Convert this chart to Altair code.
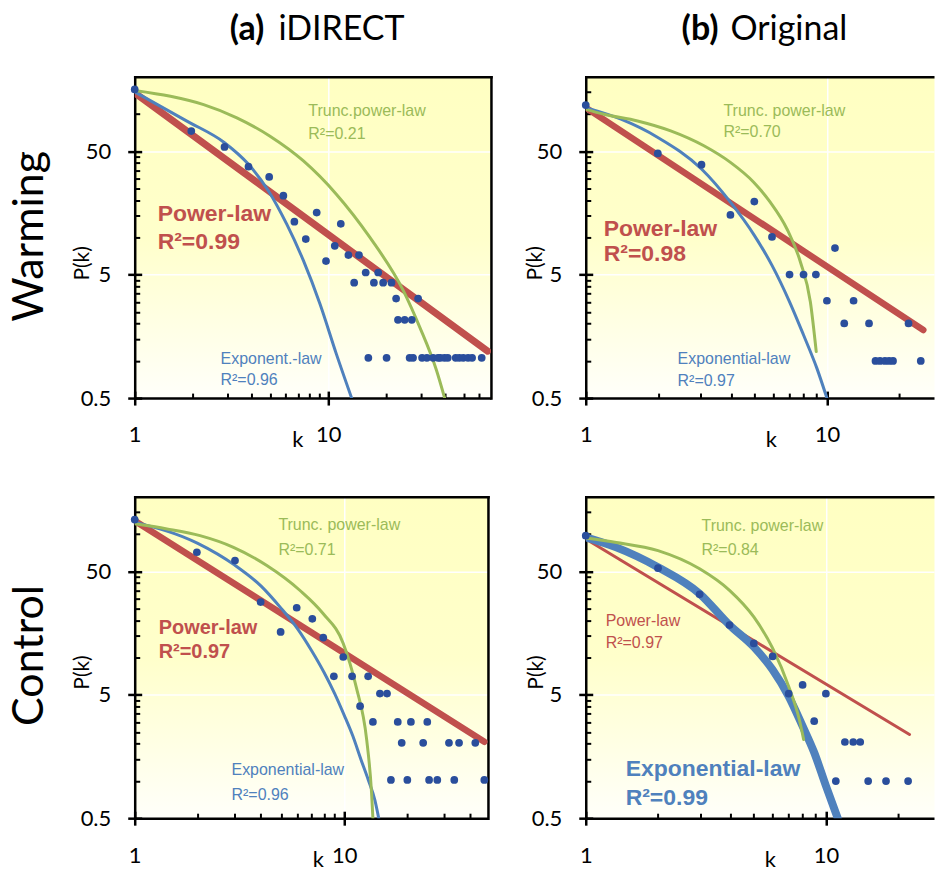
import altair as alt
import pandas as pd

RED, BLUE, GREEN, DOT = "#C0504D", "#4F81BD", "#9BBB59", "#2A4E9C"
SANS = "Liberation Sans"
UI = "Lato"

# ---------------- (a) iDIRECT - Warming ----------------
aw_k = [1, 1.96, 2.91, 3.87, 4.95, 5.86, 6.68, 7.65, 8.71, 9.73, 10.8, 11.6, 12.7, 13.6, 14.4, 15.6, 16.1,
        17.2, 18.1, 19.2, 20.0, 21.2, 22.4, 22.9, 24.8, 27.0, 29.1,
        26.3, 27.4, 30.5, 32.3, 34.8, 36.9, 37.9, 39.8, 41.4, 45.5, 47.5, 49.8, 52.7, 55.3, 62.0]
aw_p = [158, 72.6, 54, 37.4, 30.9, 21.8, 13.4, 9.7, 15.9, 6.44, 8.55, 12.9, 7.2, 4.3, 7.2, 5.2, 1.06,
        4.3, 5.2, 4.3, 1.06, 4.3, 3.2, 2.15, 2.15, 2.15, 3.2,
        1.06, 1.06, 1.06, 1.06, 1.06, 1.06, 1.06, 1.06, 1.06, 1.06, 1.06, 1.06, 1.06, 1.06, 1.06]
aw_red_k = [1, 66.5]
aw_red_p = [148, 1.2]
aw_blue_k = [1, 1.86, 2.91, 3.87, 4.91, 6.10, 7.44, 9.06, 11.0, 13.2]
aw_blue_p = [151, 87.5, 58.5, 39.1, 23.8, 12.8, 6.48, 2.89, 1.14, 0.5]
aw_green_k = [1, 1.53, 2.27, 3.37, 5.0, 7.44, 11.0, 16.4, 24.4, 29.7, 36.2, 39.9]
aw_green_p = [155, 139, 119, 93, 66, 41.6, 22.4, 10, 3.71, 1.87, 0.84, 0.5]

# ---------------- (b) Original - Warming ----------------
bw_k = [1, 1.99, 3.02, 3.98, 5.0, 5.92, 7.0, 8.0, 9.0, 10.0, 10.8, 11.8, 12.9, 14.95,
        15.9, 16.6, 17.4, 18.1, 18.8, 21.8, 24.5]
bw_p = [118, 47.9, 38.8, 15.2, 19.5, 10.1, 5.0, 5.0, 5.0, 3.07, 8.2, 2.01, 3.07, 2.01,
        1.0, 1.0, 1.0, 1.0, 1.0, 2.01, 1.0]
bw_red_k = [1, 25.1]
bw_red_p = [112.5, 1.78]
bw_blue_k = [1, 1.40, 1.99, 3.02, 3.98, 5.0, 5.92, 7.0, 8.0, 9.09, 10.0]
bw_blue_p = [112.5, 90.6, 64.5, 35.8, 19.3, 10.4, 5.94, 3.01, 1.62, 0.87, 0.5]
bw_green_k = [1, 1.19, 1.64, 2.25, 3.09, 3.98, 4.97, 5.82, 6.83, 7.77, 8.54, 9.03]
bw_green_p = [109, 99.4, 87.7, 72.9, 55.2, 40.5, 28, 19.3, 11.7, 6.3, 3.0, 1.19]

# ---------------- (a) iDIRECT - Control ----------------
ac_k = [1, 1.98, 3.01, 3.99, 4.97, 5.93, 7.04, 7.94, 8.92, 9.89, 10.9, 11.9, 13.0, 13.7, 14.8,
        16.0, 16.7, 18.0, 18.8, 20.0, 20.8, 23.8, 24.9, 25.4, 27.8, 31.6, 33.5, 35.3, 42.2, 46.6]
ac_p = [131, 71.2, 61, 28.1, 16.1, 25.3, 20.6, 14.5, 7.05, 10.1, 7.05, 4.04, 7.05, 3.01, 5.11,
        5.11, 1.02, 3.01, 2.04, 1.02, 3.01, 2.04, 3.01, 1.02, 1.02, 2.04, 1.02, 2.04, 2.04, 1.02]
ac_red_k = [1, 46.6]
ac_red_p = [128, 2.08]
ac_blue_k = [1, 2, 3, 4, 5, 6, 7, 8, 9, 10, 11, 12, 13, 14, 14.6]
ac_blue_p = [125, 84, 56, 38, 25, 17, 11.3, 7.6, 5.1, 3.4, 2.3, 1.5, 1.03, 0.7, 0.5]
ac_green_k = [1, 1.425, 2.05, 2.96, 4.27, 6.15, 7.94, 9.89, 11.4, 12.8, 13.5, 13.7]
ac_green_p = [121, 110, 97, 78, 55.6, 34.9, 22.6, 13, 5.78, 2.14, 0.8, 0.5]

# ---------------- (b) Original - Control ----------------
bc_k = [1, 2.0, 2.98, 3.97, 5.01, 6.0, 7.0, 8.0, 8.94, 10.0, 11.0, 12.0, 13.0, 13.9, 15.0, 17.8, 22.0]
bc_p = [96.9, 52.9, 32.5, 18.3, 13.0, 10.2, 5.1, 6.0, 3.05, 5.1, 1.0, 2.07, 2.07, 2.07, 1.0, 1.0, 1.0]
bc_red_k = [1, 22.3]
bc_red_p = [91.2, 2.38]
bc_blue_k = [1, 1.34, 2.0, 2.98, 3.97, 5.01, 6.0, 7.0, 8.0, 8.94, 10.0, 11.2]
bc_blue_p = [94, 78, 53.9, 32.9, 18.3, 12.2, 7.95, 4.85, 2.78, 1.70, 0.915, 0.5]
bc_green_k = [1, 1.34, 2.0, 2.98, 3.97, 5.01, 6.0, 7.0, 7.75, 8.08]
bc_green_p = [92.8, 85.5, 73.4, 52.3, 35, 21.3, 11.9, 5.83, 3.15, 2.17]

# axis tick values
x_major = [1, 10]
y_major = [0.5, 5, 50]
x_minor = [2, 3, 4, 5, 6, 7, 8, 9, 20, 30, 40, 50, 60]
y_minor = [1, 1.5, 2, 2.5, 3, 3.5, 4, 4.5, 10, 15, 20, 25, 30, 35, 40, 45, 100, 150]

Y_DOMAIN = [0.5, 200]
PANEL_H = 322

GRAD = ("{gradient:'linear',x1:0,y1:0,x2:0,y2:1,stops:["
        "{offset:0,color:'#ffffc2'},{offset:0.5,color:'#ffffcb'},{offset:1,color:'#fffffa'}]}")

ONE = pd.DataFrame({"i": [0]})


def txt(text, x, y, size, color="black", weight="normal", font=SANS, align="left",
        baseline="alphabetic", angle=0):
    mk = dict(text=text, align=align, baseline=baseline, font=font, fontSize=size,
              fontWeight=weight, color=color)
    if angle:
        mk["angle"] = angle
    return alt.Chart(ONE).mark_text(**mk).encode(x=alt.value(x), y=alt.value(y))


def make_panel(pk, pp, red, blue, green, xmax, width, widths, left_col, texts):
    xs = alt.Scale(type="log", domain=[1, xmax], nice=False)
    ys = alt.Scale(type="log", domain=Y_DOMAIN, nice=False)
    xmin_vals = [v for v in x_minor if v < xmax]

    ax_x_main = alt.Axis(orient="bottom", values=x_major, format="~g", offset=-7, tickSize=14,
                         tickWidth=2.5, tickColor="black", domain=False, grid=True,
                         gridColor="white", gridWidth=1.5,
                         gridOpacity={"condition": {"test": "datum.value < 2", "value": 0}, "value": 1},
                         labelFont=UI, labelFontSize=22, labelColor="black", labelPadding=20,
                         labelFlush=False, title=None)
    ax_y_main = alt.Axis(orient="left", values=y_major, format="~g", offset=-7, tickSize=14,
                         tickWidth=2.5, tickColor="black", domain=False, grid=True,
                         gridColor="white", gridWidth=1.5,
                         gridOpacity={"condition": {"test": "datum.value < 1", "value": 0}, "value": 1},
                         labelFont=UI, labelFontSize=22, labelColor="black", labelPadding=17,
                         title=None)
    ax_x_minor = alt.Axis(orient="bottom", values=xmin_vals, offset=-5, tickSize=5, tickWidth=2,
                          tickColor="black", domain=False, grid=False, labels=False, title=None)
    ax_y_minor = alt.Axis(orient="left", values=y_minor, offset=-5, tickSize=5, tickWidth=2,
                          tickColor="black", domain=False, grid=False, labels=False, title=None)
    ax_x_dom = alt.Axis(orient="bottom", domain=True, domainColor="black", domainWidth=2.5,
                        domainCap="butt", ticks=False, labels=False, grid=False, title=None)
    ax_y_dom = alt.Axis(orient="left", domain=True, domainColor="black", domainWidth=2.5,
                        domainCap="square", ticks=False, labels=False, grid=False, title=None)
    ax_x_top = alt.Axis(orient="top", domain=True, domainColor="black", domainWidth=2.5,
                        domainCap="square" if left_col else "butt", ticks=False, labels=False,
                        grid=False, title=None)
    ax_y_right = alt.Axis(orient="right", domain=True, domainColor="black", domainWidth=2.5,
                          domainCap="square", ticks=False, labels=False, grid=False, title=None)

    def line(ks, ps, color, w, xa, ya):
        df = pd.DataFrame({"k": ks, "P": ps})
        return alt.Chart(df).mark_line(color=color, strokeWidth=w, clip=True, strokeCap="round",
                                       strokeJoin="round", interpolate="monotone").encode(
            x=alt.X("k:Q", scale=xs, axis=xa), y=alt.Y("P:Q", scale=ys, axis=ya))

    red_l = line(red[0], red[1], RED, widths[0], ax_x_minor, ax_y_minor)
    blue_l = line(blue[0], blue[1], BLUE, widths[1], ax_x_dom, ax_y_dom)
    green_l = line(green[0], green[1], GREEN, widths[2], ax_x_top, ax_y_right if left_col else None)
    pts = alt.Chart(pd.DataFrame({"k": pk, "P": pp})).mark_circle(size=60, color=DOT, opacity=1).encode(
        x=alt.X("k:Q", scale=xs, axis=ax_x_main), y=alt.Y("P:Q", scale=ys, axis=ax_y_main))
    layers = [red_l, blue_l, green_l, pts] + texts
    return alt.layer(*layers).resolve_axis(x="independent", y="independent").properties(
        width=width, height=PANEL_H,
        view={"fill": {"expr": GRAD}, "stroke": "transparent"})


# ---- text annotations for each panel (positions relative to plot area) ----
aw_texts = [
    txt("Trunc.power-law", 174, 39, 16, GREEN),
    txt("R²=0.21", 174, 62.5, 16, GREEN),
    txt("Power-law", 23, 144.5, 23, RED, "bold"),
    txt("R²=0.99", 23, 172.5, 23, RED, "bold"),
    txt("Exponent.-law", 86, 287.5, 16, BLUE),
    txt("R²=0.96", 86, 309, 16, BLUE),
    txt("(a)", 130, -37, 34, weight="bold", font=UI, align="right"),
    txt("iDIRECT", 144, -37, 34, font=UI),
    txt("Warming", -92, 160, 43, font=UI, align="center", angle=270),
    txt("P(k)", -52, 187, 21, font=UI, align="center", baseline="middle", angle=270),
    txt("k", 163.5, 371, 22, font=UI, align="center"),
    alt.Chart(ONE).mark_rule(strokeOpacity=0, opacity=0).encode(
        x=alt.value(-134), x2=alt.value(-133), y=alt.value(-75)),
]
bw_texts = [
    txt("Trunc. power-law", 138, 39.5, 16, GREEN),
    txt("R²=0.70", 138, 60.5, 16, GREEN),
    txt("Power-law", 18, 159.5, 23, RED, "bold"),
    txt("R²=0.98", 18, 184.5, 23, RED, "bold"),
    txt("Exponential-law", 92, 287.5, 16, BLUE),
    txt("R²=0.97", 92, 309.5, 16, BLUE),
    txt("(b)", 133, -37, 34, weight="bold", font=UI, align="right"),
    txt("Original", 145, -37, 34, font=UI),
    txt("P(k)", -50, 187, 21, font=UI, align="center", baseline="middle", angle=270),
    txt("k", 186, 371, 22, font=UI, align="center"),
]
ac_texts = [
    txt("Trunc. power-law", 144, 33.5, 16, GREEN),
    txt("R²=0.71", 144, 58.5, 16, GREEN),
    txt("Power-law", 24, 137.3, 20, RED, "bold"),
    txt("R²=0.97", 24, 161.3, 20, RED, "bold"),
    txt("Exponential-law", 97, 278.5, 16, BLUE),
    txt("R²=0.96", 97, 303.5, 16, BLUE),
    txt("Control", -92, 159, 43, font=UI, align="center", angle=270),
    txt("P(k)", -52, 176, 21, font=UI, align="center", baseline="middle", angle=270),
    txt("k", 184, 371, 22, font=UI, align="center"),
]
bc_texts = [
    txt("Trunc. power-law", 116, 34.5, 16, GREEN),
    txt("R²=0.84", 116, 58.5, 16, GREEN),
    txt("Power-law", 20, 129.5, 16, RED),
    txt("R²=0.97", 20, 151.5, 16, RED),
    txt("Exponential-law", 40, 279.5, 23, BLUE, "bold"),
    txt("R²=0.99", 40, 308.5, 23, BLUE, "bold"),
    txt("P(k)", -49, 176, 21, font=UI, align="center", baseline="middle", angle=270),
    txt("k", 185, 371, 22, font=UI, align="center"),
]

AW = make_panel(aw_k, aw_p, (aw_red_k, aw_red_p), (aw_blue_k, aw_blue_p), (aw_green_k, aw_green_p),
                69.2, 357, (7, 3, 3), True, aw_texts)
BW = make_panel(bw_k, bw_p, (bw_red_k, bw_red_p), (bw_blue_k, bw_blue_p), (bw_green_k, bw_green_p),
                27.8, 349, (6.5, 3, 3), False, bw_texts)
AC = make_panel(ac_k, ac_p, (ac_red_k, ac_red_p), (ac_blue_k, ac_blue_p), (ac_green_k, ac_green_p),
                48.5, 354, (6.5, 3, 3), True, ac_texts)
BC = make_panel(bc_k, bc_p, (bc_red_k, bc_red_p), (bc_blue_k, bc_blue_p), (bc_green_k, bc_green_p),
                28.2, 349, (3, 8, 3), False, bc_texts)

chart = alt.concat(AW, BW, AC, BC, columns=2, spacing={"row": 99, "column": 95},
                   bounds="flush", padding=0, background="white")

chart.save("out.html", embed_options={"renderer": "svg", "actions": False})
